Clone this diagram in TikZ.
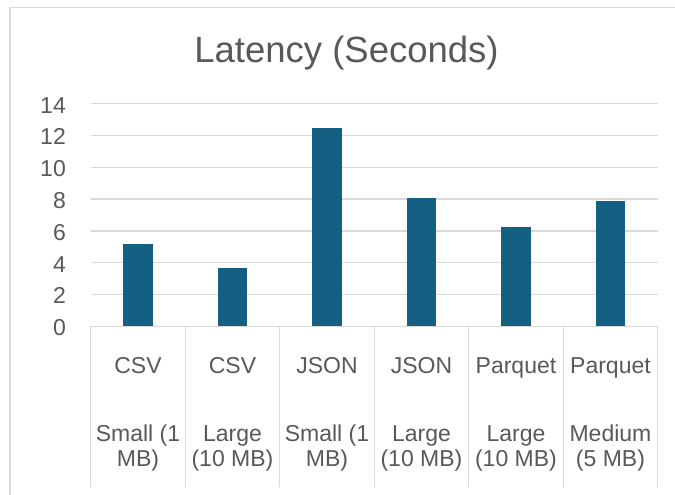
\documentclass[tikz,border=0pt]{standalone}
\usepackage{fontspec}
\setmainfont{Liberation Sans}
\definecolor{barblue}{HTML}{156082}
\definecolor{labelgray}{HTML}{595959}
\definecolor{gridgray}{HTML}{D9D9D9}
\tikzset{
  gridline/.style={draw=gridgray,line width=1.3pt},
  framebox/.style={draw=gridgray,line width=1.5pt},
  bar/.style={fill=barblue},
  ticklabel/.style={text=labelgray,font=\fontsize{23}{26}\selectfont,inner sep=0pt,anchor=base east},
  catlabel/.style={text=labelgray,font=\fontsize{23}{26}\selectfont,inner sep=0pt,anchor=base},
  charttitle/.style={text=labelgray,font=\fontsize{36.5}{42}\selectfont,inner sep=0pt,anchor=base}
}
\begin{document}
\begin{tikzpicture}[x=1pt,y=-1pt]
            \useasboundingbox (0,0) rectangle (675,495);
            \fill[white] (0,0) rectangle (675,495);
            \draw[framebox] (10,7.5) rectangle (720,540);

            \node[charttitle] (title) at (346.5,62.7) {Latency (Seconds)};

            \foreach \v in {2,4,...,14}
                \draw[gridline] (90.7,326.3-15.9*\v) -- (657.7,326.3-15.9*\v);
            \foreach \v in {0,2,...,14}
                \node[ticklabel] (tick\v) at (66,335.7-15.9*\v) {\v};

            \foreach \i/\h in {1/5.2,2/3.65,3/12.5,4/8.1,5/6.25,6/7.9}
                \fill[bar] (90.7+94.5*\i-47.25-14.8,326.3) rectangle (90.7+94.5*\i-47.25+14.8,326.3-15.9*\h);

            \draw[gridline] (90.7,326.3) -- (657.7,326.3);
            \foreach \i in {0,...,6}
                \draw[gridline] (90.7+94.5*\i,326.3) -- (90.7+94.5*\i,487);

            \foreach \i/\t/\a/\b in {1/CSV/{Small (1}/{MB)},2/CSV/{Large}/{(10 MB)},3/JSON/{Small (1}/{MB)},4/JSON/{Large}/{(10 MB)},5/Parquet/{Large}/{(10 MB)},6/Parquet/{Medium}/{(5 MB)}}{
                \node[catlabel] (type\i) at (90.7+94.5*\i-47.25,373.3) {\t};
                \node[catlabel] (size\i) at (90.7+94.5*\i-47.25,441.7) {\a};
                \node[catlabel] (mb\i) at (90.7+94.5*\i-47.25,466.3) {\b};
            }
        \end{tikzpicture}
\end{document}
